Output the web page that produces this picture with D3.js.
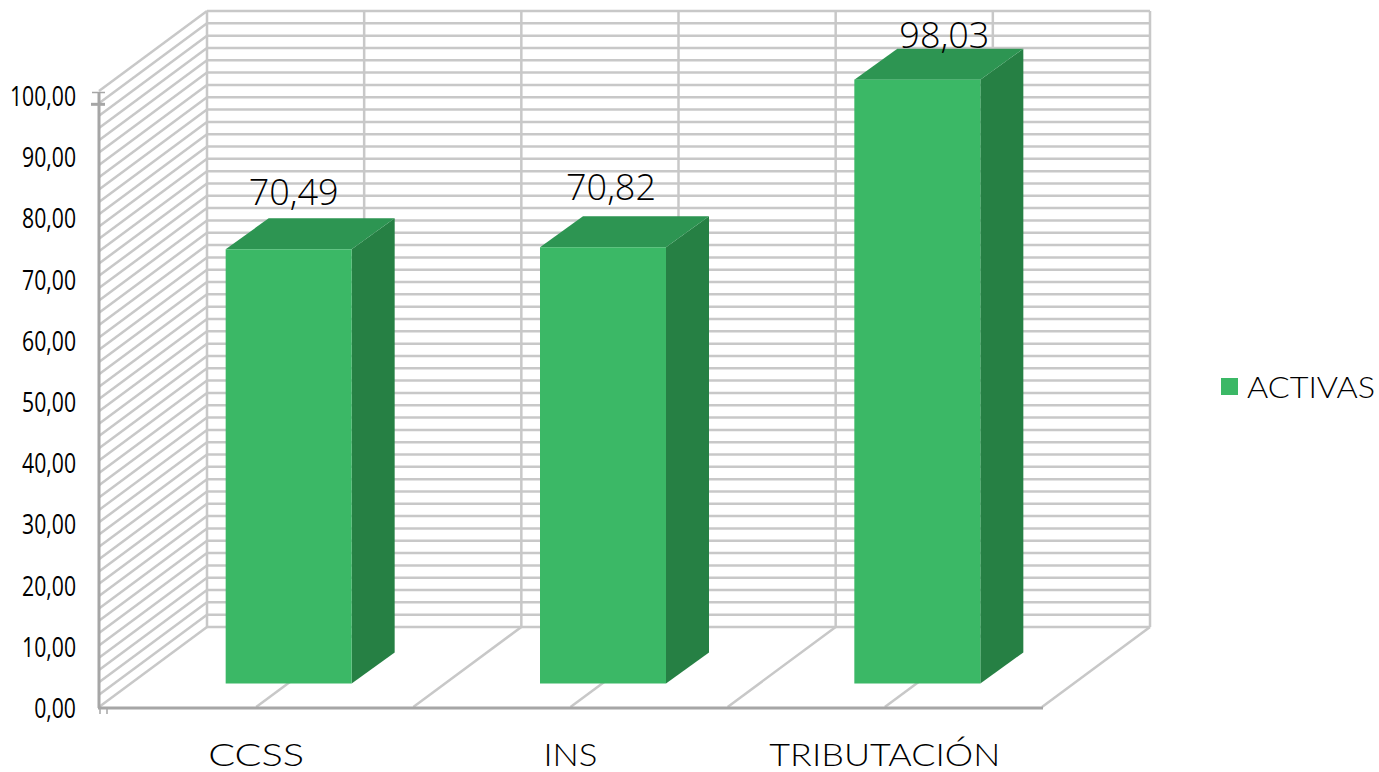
<!DOCTYPE html>
<html>
<head>
<meta charset="utf-8">
<script src="https://d3js.org/d3.v7.min.js"></script>
<style>
  html, body { margin: 0; padding: 0; background: #fff; }
  svg { display: block; }
  .num { font-family: "Open Sans", sans-serif; fill: #000; }
  .cat { font-family: "Lato", sans-serif; fill: #000; }
</style>
</head>
<body>
<svg id="chart" width="1379" height="772"></svg>
<script>
// data
var categories = ["CCSS", "INS", "TRIBUTACIÓN"];
var activas = [70.49, 70.82, 98.03];
var valueLabels = ["70,49", "70,82", "98,03"];
var yTicks = [0, 10, 20, 30, 40, 50, 60, 70, 80, 90, 100];
var gridValues = d3.range(0, 101, 2);
var legendLabel = "ACTIVAS";

var svg = d3.select("#chart");

// the box: front left corner, back wall, depth of the floor
var left = 99, right = 1042, front = 707;
var depthX = 108, depthY = 80;

var x = d3.scaleLinear().domain([0, 6]).range([left, right]);
var y = d3.scaleLinear().domain([0, 100]).range([0, 616]);
var band = d3.scaleBand().domain(categories).range([left, right]);
var yLabel = d3.scaleLinear().domain([0, 100]).range([708, 96]);

var grid = "#c8c8c8", axisColor = "#a6a6a6";

var g = svg.append("g");

// back wall
g.selectAll(".hback").data(gridValues).enter().append("line")
  .attr("x1", left + depthX).attr("x2", right + depthX)
  .attr("y1", function (d) { return front - depthY - y(d); })
  .attr("y2", function (d) { return front - depthY - y(d); })
  .attr("stroke", grid).attr("stroke-width", 2.5);
g.selectAll(".vback").data(d3.range(0, 7)).enter().append("line")
  .attr("x1", function (d) { return x(d) + depthX; })
  .attr("x2", function (d) { return x(d) + depthX; })
  .attr("y1", front - depthY - y(100)).attr("y2", front - depthY)
  .attr("stroke", grid).attr("stroke-width", 2.5);

// side wall
g.selectAll(".side").data(gridValues).enter().append("line")
  .attr("x1", left).attr("x2", left + depthX)
  .attr("y1", function (d) { return front - y(d); })
  .attr("y2", function (d) { return front - depthY - y(d); })
  .attr("stroke", grid).attr("stroke-width", 2.5);

// floor
g.selectAll(".floor").data(d3.range(1, 7)).enter().append("line")
  .attr("x1", function (d) { return x(d); })
  .attr("x2", function (d) { return x(d) + depthX; })
  .attr("y1", front).attr("y2", front - depthY)
  .attr("stroke", grid).attr("stroke-width", 2.5);

// axis lines
g.append("line").attr("x1", left).attr("x2", left).attr("y1", 92).attr("y2", 708)
  .attr("stroke", axisColor).attr("stroke-width", 3);
g.append("line").attr("x1", left - 1).attr("x2", right + 1).attr("y1", front + 1).attr("y2", front + 1)
  .attr("stroke", axisColor).attr("stroke-width", 3);
g.append("line").attr("x1", 92).attr("x2", 105).attr("y1", front - y(100) + 1.5).attr("y2", front - y(100) + 1.5)
  .attr("stroke", axisColor).attr("stroke-width", 1.5);
g.append("line").attr("x1", 91).attr("x2", 105).attr("y1", front - y(98) + 1).attr("y2", front - y(98) + 1)
  .attr("stroke", axisColor).attr("stroke-width", 3);
g.selectAll(".stub").data([100, 107]).enter().append("line")
  .attr("x1", function (d) { return d; }).attr("x2", function (d) { return d; })
  .attr("y1", 708).attr("y2", 714)
  .attr("stroke", axisColor).attr("stroke-width", 1.5);

// bars
var barDx = 43, barDy = 31, barFloor = 683.5, barWidth = 126;
var bars = g.selectAll(".bar").data(activas).enter().append("g");
function barLeft(i) { return band(categories[i]) + (band.bandwidth() - barWidth) / 2 + 32.5; }

bars.append("polygon").attr("fill", "#268044")
  .attr("points", function (d, i) {
    var x0 = barLeft(i) + barWidth, top = barFloor - y(d);
    return [[x0, top], [x0 + barDx, top - barDy], [x0 + barDx, barFloor - barDy], [x0, barFloor]].join(" ");
  });
bars.append("polygon").attr("fill", "#2d9552")
  .attr("points", function (d, i) {
    var x0 = barLeft(i), top = barFloor - y(d);
    return [[x0, top], [x0 + barDx, top - barDy], [x0 + barWidth + barDx, top - barDy], [x0 + barWidth, top]].join(" ");
  });
bars.append("rect").attr("fill", "#3bb866")
  .attr("x", function (d, i) { return barLeft(i); })
  .attr("y", function (d) { return barFloor - y(d); })
  .attr("width", barWidth)
  .attr("height", function (d) { return y(d); });

// value labels sit a little differently over each bar
var nudgeX = [5, 8, 27], nudgeY = [44, 47, 32];
bars.append("text").attr("class", "num")
  .attr("text-anchor", "middle")
  .attr("font-size", 36).attr("font-weight", 300)
  .attr("x", function (d, i) { return barLeft(i) + barWidth / 2 + nudgeX[i]; })
  .attr("y", function (d, i) { return barFloor - y(d) - nudgeY[i]; })
  .text(function (d, i) { return valueLabels[i]; });

// y axis labels
var yAxis = d3.axisLeft(yLabel).tickValues(yTicks).tickSize(0)
  .tickFormat(function (d) { return d3.format(".2f")(d).replace(".", ","); });
var ax = svg.append("g").attr("transform", "translate(76,0)").call(yAxis);
ax.select(".domain").remove();
ax.selectAll("text")
  .attr("class", "num").attr("x", 0).attr("dy", "0.36em")
  .attr("font-size", 26.5).attr("text-anchor", "end")
  .attr("transform", "scale(0.8,1)");

// category labels
var catWidths = [96, 54, 231];
svg.selectAll(".catlabel").data(categories).enter().append("text")
  .attr("class", "cat")
  .attr("text-anchor", "middle")
  .attr("font-size", 32).attr("font-weight", 300)
  .attr("x", function (d) { return band(d) + band.bandwidth() / 2; })
  .attr("y", 766)
  .attr("textLength", function (d, i) { return catWidths[i]; })
  .attr("lengthAdjust", "spacingAndGlyphs")
  .text(function (d) { return d; });

// legend
svg.append("rect").attr("x", 1221).attr("y", 378).attr("width", 17).attr("height", 17).attr("fill", "#3bb866");
svg.append("text").attr("class", "cat")
  .attr("x", 1247).attr("y", 398)
  .attr("font-size", 30).attr("font-weight", 300)
  .attr("textLength", 128).attr("lengthAdjust", "spacingAndGlyphs")
  .text(legendLabel);
</script>
</body>
</html>
